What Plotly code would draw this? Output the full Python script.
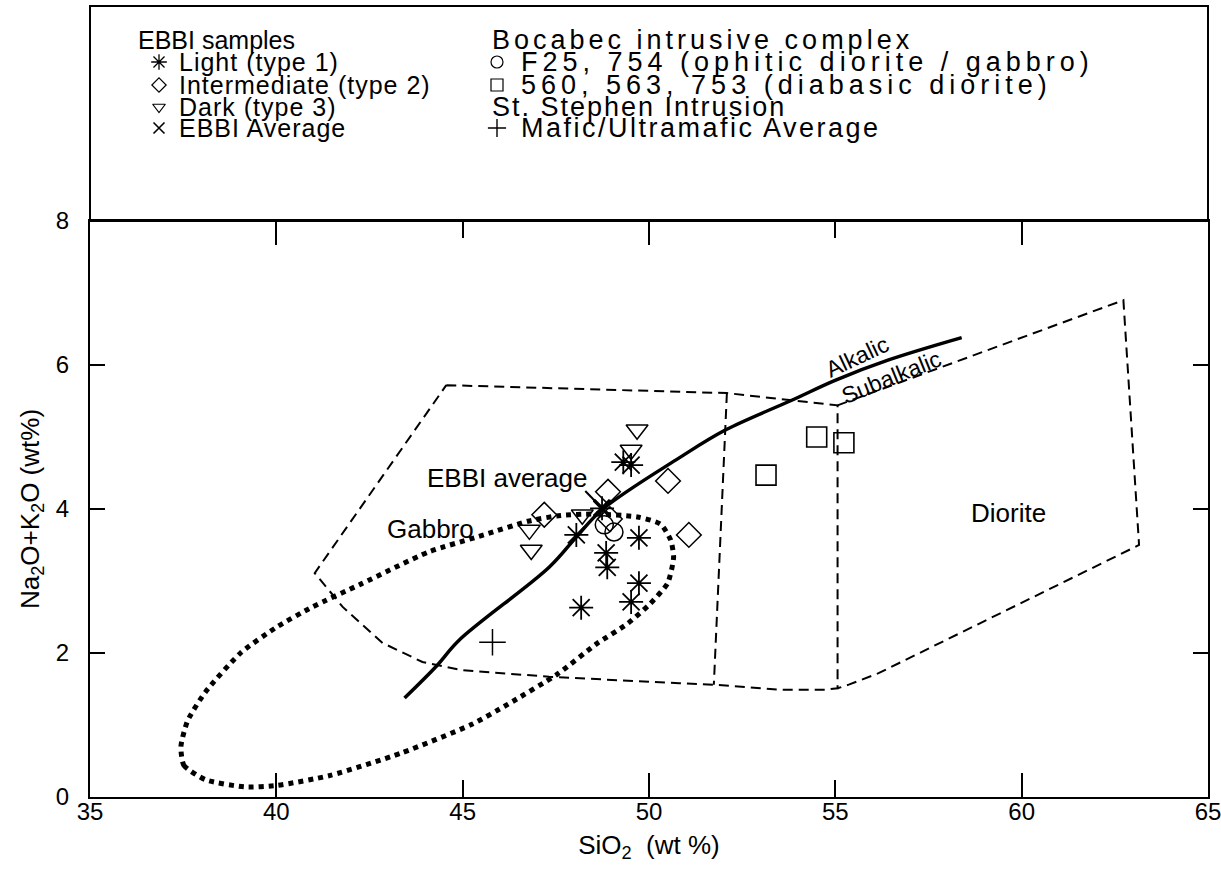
import plotly.graph_objects as go

# ---------------- data ----------------
light_x = [49.31, 49.52, 48.74, 48.05, 49.73, 48.85, 48.88, 49.73, 49.52, 48.18]
light_y = [4.65, 4.61, 4.01, 3.64, 3.60, 3.39, 3.19, 2.97, 2.71, 2.63]

inter_x = [48.90, 50.51, 51.07, 47.19, 48.95]
inter_y = [4.24, 4.39, 3.64, 3.92, 3.86]

dark_x = [49.68, 49.52, 48.21, 46.79, 46.84]
dark_y = [5.10, 4.82, 3.92, 3.71, 3.43]

avg_x = [48.74]
avg_y = [4.01]

ophitic_x = [48.80, 49.06]
ophitic_y = [3.78, 3.68]

diabasic_x = [54.50, 55.23, 53.14]
diabasic_y = [5.00, 4.92, 4.47]

ststephen_x = [45.80]
ststephen_y = [2.15]

# Alkalic / subalkalic divide
alk_x = [43.44, 44.30, 44.91, 47.32, 48.05, 48.74, 50.81, 52.06, 53.83, 55.01, 56.43, 58.39]
alk_y = [1.375, 1.82, 2.18, 3.19, 3.61, 3.99, 4.71, 5.10, 5.51, 5.79, 6.07, 6.38]

# Gabbro field (dashed)
gab_field_x = [44.56, 52.09, 55.06, 55.06, 54.74, 53.48, 51.74, 50.81, 47.32, 44.99, 43.92, 42.85, 41.78, 41.03, 44.56]
gab_field_y = [5.72, 5.61, 5.44, 1.51, 1.49, 1.49, 1.56, 1.58, 1.67, 1.76, 1.875, 2.14, 2.64, 3.11, 5.72]

# gabbro / gabbroic diorite divide
mid_x = [52.09, 51.74]
mid_y = [5.61, 1.56]

# Diorite field (dashed)
dio_x = [55.06, 62.73, 63.15, 56.16, 55.36, 55.06]
dio_y = [5.44, 6.90, 3.50, 1.72, 1.56, 1.51]

# Dotted gabbro envelope
ell_x = [37.44, 37.52, 38.10, 39.15, 40.01, 41.45, 43.35, 45.25, 46.22, 47.55, 48.60, 49.43, 50.04, 50.50,
         50.66, 50.58, 50.31, 49.69, 48.52, 47.63, 46.75, 45.57, 44.07, 42.28, 40.97, 40.01, 39.04, 38.10,
         37.62, 37.44]
ell_y = [0.70, 0.44, 0.24, 0.14, 0.16, 0.30, 0.61, 1.01, 1.29, 1.71, 2.13, 2.41, 2.69, 2.97,
         3.33, 3.57, 3.79, 3.89, 3.93, 3.91, 3.83, 3.64, 3.40, 2.96, 2.64, 2.36, 2.00, 1.46,
         1.06, 0.70]

# EBBI average leader line
lead_x = [48.29, 48.74]
lead_y = [4.25, 4.01]

x_ticks = [35, 40, 45, 50, 55, 60, 65]
x_long_ticks = [40, 50, 60]
y_ticks = [0, 2, 4, 6, 8]

# ---------------- layout constants ----------------
W, H = 1221, 869
ML, MR, MT, MB = 90, 13, 6, 72
PLOT_TOP_PX = 221      # pixel row of y = 8
Y0_PX = H - MB         # pixel row of y = 0
dom_top = (Y0_PX - PLOT_TOP_PX) / (H - MT - MB)

FONT = "Liberation Sans, Arial, Helvetica, sans-serif"
BLACK = "#000000"

fig = go.Figure()

dash_style = "10px,6px"

fig.add_trace(go.Scatter(x=ell_x, y=ell_y, mode="lines",
                         line=dict(color=BLACK, width=5, dash="5px,5px", shape="spline", smoothing=0.6),
                         hoverinfo="skip", showlegend=False))
fig.add_trace(go.Scatter(x=gab_field_x, y=gab_field_y, mode="lines",
                         line=dict(color=BLACK, width=2, dash=dash_style), hoverinfo="skip", showlegend=False))
fig.add_trace(go.Scatter(x=mid_x, y=mid_y, mode="lines",
                         line=dict(color=BLACK, width=2, dash=dash_style), hoverinfo="skip", showlegend=False))
fig.add_trace(go.Scatter(x=dio_x, y=dio_y, mode="lines",
                         line=dict(color=BLACK, width=2, dash=dash_style), hoverinfo="skip", showlegend=False))
fig.add_trace(go.Scatter(x=alk_x, y=alk_y, mode="lines",
                         line=dict(color=BLACK, width=3.5, shape="spline"), hoverinfo="skip", showlegend=False))
fig.add_trace(go.Scatter(x=lead_x, y=lead_y, mode="lines",
                         line=dict(color=BLACK, width=2), hoverinfo="skip", showlegend=False))

def pts(x, y, symbol, size, lw, name):
    fig.add_trace(go.Scatter(x=x, y=y, mode="markers", name=name, showlegend=False,
                             marker=dict(symbol=symbol, size=size, color=BLACK,
                                         line=dict(color=BLACK, width=lw))))

pts(light_x, light_y, "asterisk-open", 20, 1.8, "Light (type 1)")
pts(inter_x, inter_y, "diamond-open", 19, 1.5, "Intermediate (type 2)")
pts(dark_x, dark_y, "triangle-down-open", 19, 1.5, "Dark (type 3)")
pts(avg_x, avg_y, "x-thin-open", 16, 3.5, "EBBI Average")
pts(ophitic_x, ophitic_y, "circle-open", 18, 1.5, "F25, 754")
pts(diabasic_x, diabasic_y, "square-open", 20, 1.6, "560, 563, 753")
pts(ststephen_x, ststephen_y, "cross-thin-open", 19, 1.5, "Mafic/Ultramafic Average")

# invisible trace so that the long-tick overlay axis is drawn
fig.add_trace(go.Scatter(x=[x_long_ticks[0]], y=[y_ticks[0]], xaxis="x3", mode="markers",
                         marker=dict(opacity=0), hoverinfo="skip", showlegend=False))

# ---------------- legend panel (drawn on a pixel-space helper axis) ----------------
leg_rows = [40, 62, 85, 107, 128]
left_sym_x, left_txt_x, left_head_x = 159, 177, 136
right_sym_x, right_txt_x, right_head_x = 497, 519, 490

left_items = [("asterisk-open", 13, 1.3, "Light (type 1)"),
              ("diamond-open", 11, 1.2, "Intermediate (type 2)"),
              ("triangle-down-open", 11, 1.2, "Dark (type 3)"),
              ("x-thin-open", 11, 1.6, "EBBI Average")]
right_items = [(1, "circle-open", 12, 1.2, "F25, 754 (ophitic diorite / gabbro)", 5),
               (2, "square-open", 12, 1.2, "560, 563, 753 (diabasic diorite)", 5),
               (4, "cross-thin-open", 13, 1.4, "Mafic/Ultramafic Average", 2.5)]

for i, (sym, sz, lw, label) in enumerate(left_items):
    fig.add_trace(go.Scatter(x=[left_sym_x], y=[leg_rows[i + 1]], xaxis="x2", yaxis="y2", mode="markers",
                             marker=dict(symbol=sym, size=sz, color=BLACK, line=dict(color=BLACK, width=lw)),
                             hoverinfo="skip", showlegend=False))
for row, sym, sz, lw, label, sp in right_items:
    fig.add_trace(go.Scatter(x=[right_sym_x], y=[leg_rows[row]], xaxis="x2", yaxis="y2", mode="markers",
                             marker=dict(symbol=sym, size=sz, color=BLACK, line=dict(color=BLACK, width=lw)),
                             hoverinfo="skip", showlegend=False))

LEG_FONT = dict(family=FONT, size=25, color=BLACK)
RIGHT_FONT = dict(family=FONT, size=27, color=BLACK)
annotations = []
def leg_text(x, y, text, spacing=0, font=LEG_FONT):
    if spacing:
        text = '<span style="letter-spacing:%spx">%s</span>' % (spacing, text)
    annotations.append(dict(x=x, y=y, xref="x2", yref="y2", text=text, showarrow=False,
                            xanchor="left", yanchor="middle", font=font))

leg_text(left_head_x, leg_rows[0], "EBBI samples")
for i, item in enumerate(left_items):
    leg_text(left_txt_x, leg_rows[i + 1], item[3], 1)
leg_text(right_head_x, leg_rows[0], "Bocabec intrusive complex", 4, RIGHT_FONT)
leg_text(right_head_x, leg_rows[3], "St. Stephen Intrusion", 2, RIGHT_FONT)
for row, sym, sz, lw, label, sp in right_items:
    leg_text(right_txt_x, leg_rows[row], label, sp, RIGHT_FONT)

# ---------------- in-plot labels ----------------
LBL_FONT = dict(family=FONT, size=26, color=BLACK)
annotations += [
    dict(x=46.20, y=4.43, text="EBBI average", showarrow=False, font=LBL_FONT),
    dict(x=44.13, y=3.72, text="Gabbro", showarrow=False, font=LBL_FONT),
    dict(x=59.65, y=3.95, text="Diorite", showarrow=False, font=LBL_FONT),
    dict(x=55.57, y=6.11, text="Alkalic", showarrow=False, textangle=-25,
         font=dict(family=FONT, size=23, color=BLACK)),
    dict(x=56.51, y=5.83, text="Subalkalic", showarrow=False, textangle=-22,
         font=dict(family=FONT, size=23, color=BLACK)),
]

axis_common = dict(showline=True, linecolor=BLACK, linewidth=2, ticks="inside", tickcolor=BLACK,
                   tickwidth=1.5, showgrid=False, zeroline=False, mirror="ticks", automargin=False,
                   ticklabeloverflow="allow",
                   tickfont=dict(family=FONT, size=24, color=BLACK))

fig.update_layout(
    width=W, height=H,
    margin=dict(l=ML, r=MR, t=MT, b=MB, pad=0),
    paper_bgcolor="white", plot_bgcolor="white",
    showlegend=False,
    annotations=annotations,
    xaxis=dict(range=[35, 65], tickvals=x_ticks, ticklen=17, domain=[0, 1], ticklabelstandoff=-8,
               title=dict(text="SiO<sub>2</sub>  (wt %)", font=dict(family=FONT, size=26, color=BLACK),
                          standoff=12),
               **axis_common),
    xaxis3=dict(range=[35, 65], overlaying="x", anchor="y", tickvals=x_long_ticks, ticklen=24,
                showticklabels=False, showline=True, linecolor=BLACK, linewidth=2, ticks="inside",
                tickcolor=BLACK, tickwidth=1.5, showgrid=False, zeroline=False, mirror="ticks",
                automargin=False),
    yaxis=dict(range=[0, 8], tickvals=y_ticks, ticklen=15, domain=[0, dom_top], ticklabelstandoff=14,
               title=dict(text="Na<sub>2</sub>O+K<sub>2</sub>O (wt%)",
                          font=dict(family=FONT, size=26, color=BLACK), standoff=9),
               **axis_common),
    xaxis2=dict(domain=[0, 1], range=[ML, W - MR], visible=False, anchor="y2", fixedrange=True),
    yaxis2=dict(domain=[dom_top, 1], range=[PLOT_TOP_PX, MT], visible=False, anchor="x2", fixedrange=True),
    shapes=[dict(type="rect", xref="paper", yref="paper", x0=0, x1=1, y0=dom_top, y1=1,
                 line=dict(color=BLACK, width=2), layer="above")],
)

fig.write_html("out.html", config={"displayModeBar": False},
               post_script="document.body.style.margin='0';document.body.style.overflow='hidden';")
